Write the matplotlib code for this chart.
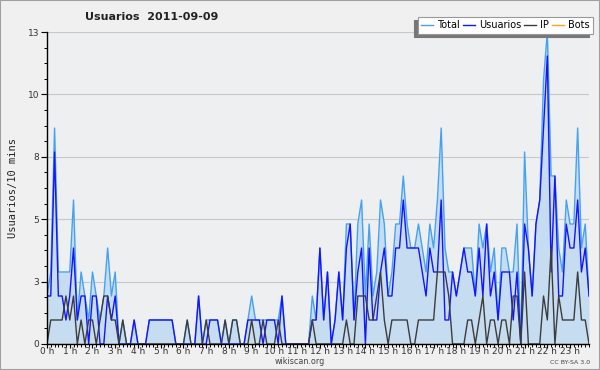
import matplotlib
matplotlib.use('Agg')
import matplotlib.pyplot as plt
from matplotlib.ticker import FixedLocator, MultipleLocator
from matplotlib.patches import Rectangle

# valores cada 10 minutos (144 puntos)
total = [2, 3, 9, 3, 3, 3, 3, 6, 1, 3, 2, 1, 3, 2, 1, 2, 4, 2, 3, 0, 1, 0, 0, 1,
         0, 0, 0, 1, 1, 1, 1, 1, 1, 1, 0, 0, 0, 1, 0, 0, 2, 0, 1, 1, 1, 1, 0, 1,
         0, 1, 1, 0, 0, 1, 2, 1, 1, 1, 1, 1, 1, 1, 2, 0, 0, 0, 0, 0, 0, 0, 2, 1,
         4, 1, 3, 0, 1, 3, 1, 5, 5, 1, 5, 6, 2, 5, 2, 3, 6, 5, 2, 3, 5, 5, 7, 5,
         4, 4, 5, 4, 3, 5, 4, 6, 9, 4, 3, 3, 2, 3, 4, 4, 4, 2, 5, 4, 5, 3, 4, 1,
         4, 4, 3, 3, 5, 0, 8, 4, 2, 5, 6, 11, 13, 7, 7, 4, 3, 6, 5, 5, 9, 4, 5, 2]

usuarios = [2, 2, 8, 2, 2, 1, 2, 4, 1, 2, 2, 0, 2, 2, 0, 0, 2, 1, 2, 0, 0, 0, 0, 1,
            0, 0, 0, 1, 1, 1, 1, 1, 1, 1, 0, 0, 0, 0, 0, 0, 2, 0, 0, 1, 1, 1, 0, 0,
            0, 0, 0, 0, 0, 1, 1, 1, 1, 0, 1, 1, 1, 0, 2, 0, 0, 0, 0, 0, 0, 0, 1, 1,
            4, 1, 3, 0, 1, 3, 1, 4, 5, 1, 3, 4, 0, 4, 1, 1, 3, 4, 2, 2, 4, 4, 6, 4,
            4, 4, 4, 3, 2, 4, 3, 3, 6, 1, 1, 3, 2, 3, 4, 3, 3, 2, 4, 2, 5, 2, 3, 1,
            3, 3, 3, 1, 3, 0, 5, 4, 2, 5, 6, 9, 12, 3, 7, 2, 2, 5, 4, 4, 6, 3, 4, 2]

ip = [0, 1, 1, 1, 1, 2, 1, 2, 0, 1, 0, 1, 1, 0, 1, 2, 2, 1, 1, 0, 1, 0, 0, 0,
      0, 0, 0, 0, 0, 0, 0, 0, 0, 0, 0, 0, 0, 1, 0, 0, 0, 0, 1, 0, 0, 0, 0, 1,
      0, 1, 1, 0, 0, 0, 1, 0, 0, 1, 0, 0, 0, 1, 0, 0, 0, 0, 0, 0, 0, 0, 1, 0,
      0, 0, 0, 0, 0, 0, 0, 1, 0, 0, 2, 2, 2, 1, 1, 2, 3, 1, 0, 1, 1, 1, 1, 1,
      0, 0, 1, 1, 1, 1, 1, 3, 3, 3, 2, 0, 0, 0, 0, 1, 1, 0, 1, 2, 0, 1, 1, 0,
      1, 1, 0, 2, 2, 0, 3, 0, 0, 0, 0, 2, 1, 4, 0, 2, 1, 1, 1, 1, 3, 1, 1, 0]

bots = [0, 0, 0, 0, 0, 0, 0, 0, 0, 0, 0, 0, 0, 0, 0, 0, 0, 0, 0, 0, 0, 0, 0, 0,
        0, 0, 0, 0, 0, 0, 0, 0, 0, 0, 0, 0, 0, 0, 0, 0, 0, 0, 0, 0, 0, 0, 0, 0,
        0, 0, 0, 0, 0, 0, 0, 0, 0, 0, 0, 0, 0, 0, 0, 0, 0, 0, 0, 0, 0, 0, 0, 0,
        0, 0, 0, 0, 0, 0, 0, 0, 0, 0, 0, 0, 0, 0, 0, 0, 0, 0, 0, 0, 0, 0, 0, 0,
        0, 0, 0, 0, 0, 0, 0, 0, 0, 0, 0, 0, 0, 0, 0, 0, 0, 0, 0, 0, 0, 0, 0, 0,
        0, 0, 0, 0, 0, 0, 0, 0, 0, 0, 0, 0, 0, 0, 0, 0, 0, 0, 0, 0, 0, 0, 0, 0]

hour_labels = ['0 h', '1 h', '2 h', '3 h', '4 h', '5 h', '6 h', '7 h',
               '8 h', '9 h', '10 h', '11 h', '12 h', '13 h', '14 h', '15 h',
               '16 h', '17 h', '18 h', '19 h', '20 h', '21 h', '22 h', '23 h']
y_ticks = [0, 2.6, 5.2, 7.8, 10.4, 13]
y_labels = ['0', '3', '5', '8', '10', '13']

x = list(range(len(total)))

fig = plt.figure(figsize=(6, 3.7), dpi=100, facecolor='#f0f0f0')
ax = fig.add_axes([0.0783, 0.0703, 0.9034, 0.8432], facecolor='#eeeff1')

ax.fill_between(x, total, 0, color='#c6dcf0', lw=0, zorder=1)
ax.plot(x, total, color='#45a2f2', lw=1, label='Total', zorder=2)
ax.plot(x, usuarios, color='#1414ff', lw=1, label='Usuarios', zorder=2)
ax.plot(x, ip, color='#3c3c3c', lw=1, label='IP', zorder=2)
ax.plot(x, bots, color='#ffa31a', lw=1, label='Bots', zorder=1.5)

ax.set_xlim(0, len(total) - 1)
ax.set_ylim(0, 13)

ax.yaxis.set_major_locator(FixedLocator(y_ticks))
ax.set_yticklabels(y_labels)
ax.yaxis.set_minor_locator(MultipleLocator(0.65))
ax.xaxis.set_major_locator(FixedLocator(list(range(0, 144, 6))))
ax.set_xticklabels(hour_labels)
ax.xaxis.set_minor_locator(MultipleLocator(1))

ax.tick_params(axis='y', which='major', length=4, width=0.8, labelsize=6.5,
               labelcolor='#333333', pad=1.5)
ax.tick_params(axis='x', which='major', length=3, width=0.8, labelsize=6.5,
               labelcolor='#333333', pad=-0.5)
ax.tick_params(axis='both', which='minor', length=2.5, width=0.7)

ax.grid(axis='y', which='major', color='#c8c8c8', lw=0.8, zorder=0)
ax.set_axisbelow(True)
for s in ['top', 'right']:
    ax.spines[s].set_visible(False)
for s in ['left', 'bottom']:
    ax.spines[s].set_linewidth(1)
    ax.spines[s].set_color('black')

ax.set_ylabel('Usuarios/10 mins', family='DejaVu Sans Mono', fontsize=7.5,
              color='#222222', labelpad=7)

fig.text(0.142, 0.955, 'Usuarios  2011-09-09', fontsize=8, weight='bold',
         color='#222222', va='center', ha='left')
fig.text(0.5, 0.022, 'wikiscan.org', fontsize=5.8, color='#444444',
         ha='center', va='center')
fig.text(0.983, 0.021, 'CC BY-SA 3.0', fontsize=4.5, color='#444444',
         ha='right', va='center')

leg = fig.legend(loc='upper right', bbox_to_anchor=(0.988, 0.954), ncol=4,
                 fontsize=7, frameon=True, fancybox=False, borderpad=0.35,
                 handlelength=1.25, handletextpad=0.4, columnspacing=0.3,
                 borderaxespad=0,
                 shadow={'ox': -2.4, 'oy': -2.4, 'facecolor': '#777777',
                         'edgecolor': '#777777', 'alpha': 1})
leg.get_frame().set_edgecolor('#999999')
leg.get_frame().set_linewidth(0.8)

fig.patches.append(Rectangle((0, 0), 1, 1, transform=fig.transFigure,
                             fill=False, edgecolor='#a0a0a0', lw=1.5))

fig.savefig('out.png', dpi=100, facecolor=fig.get_facecolor())
